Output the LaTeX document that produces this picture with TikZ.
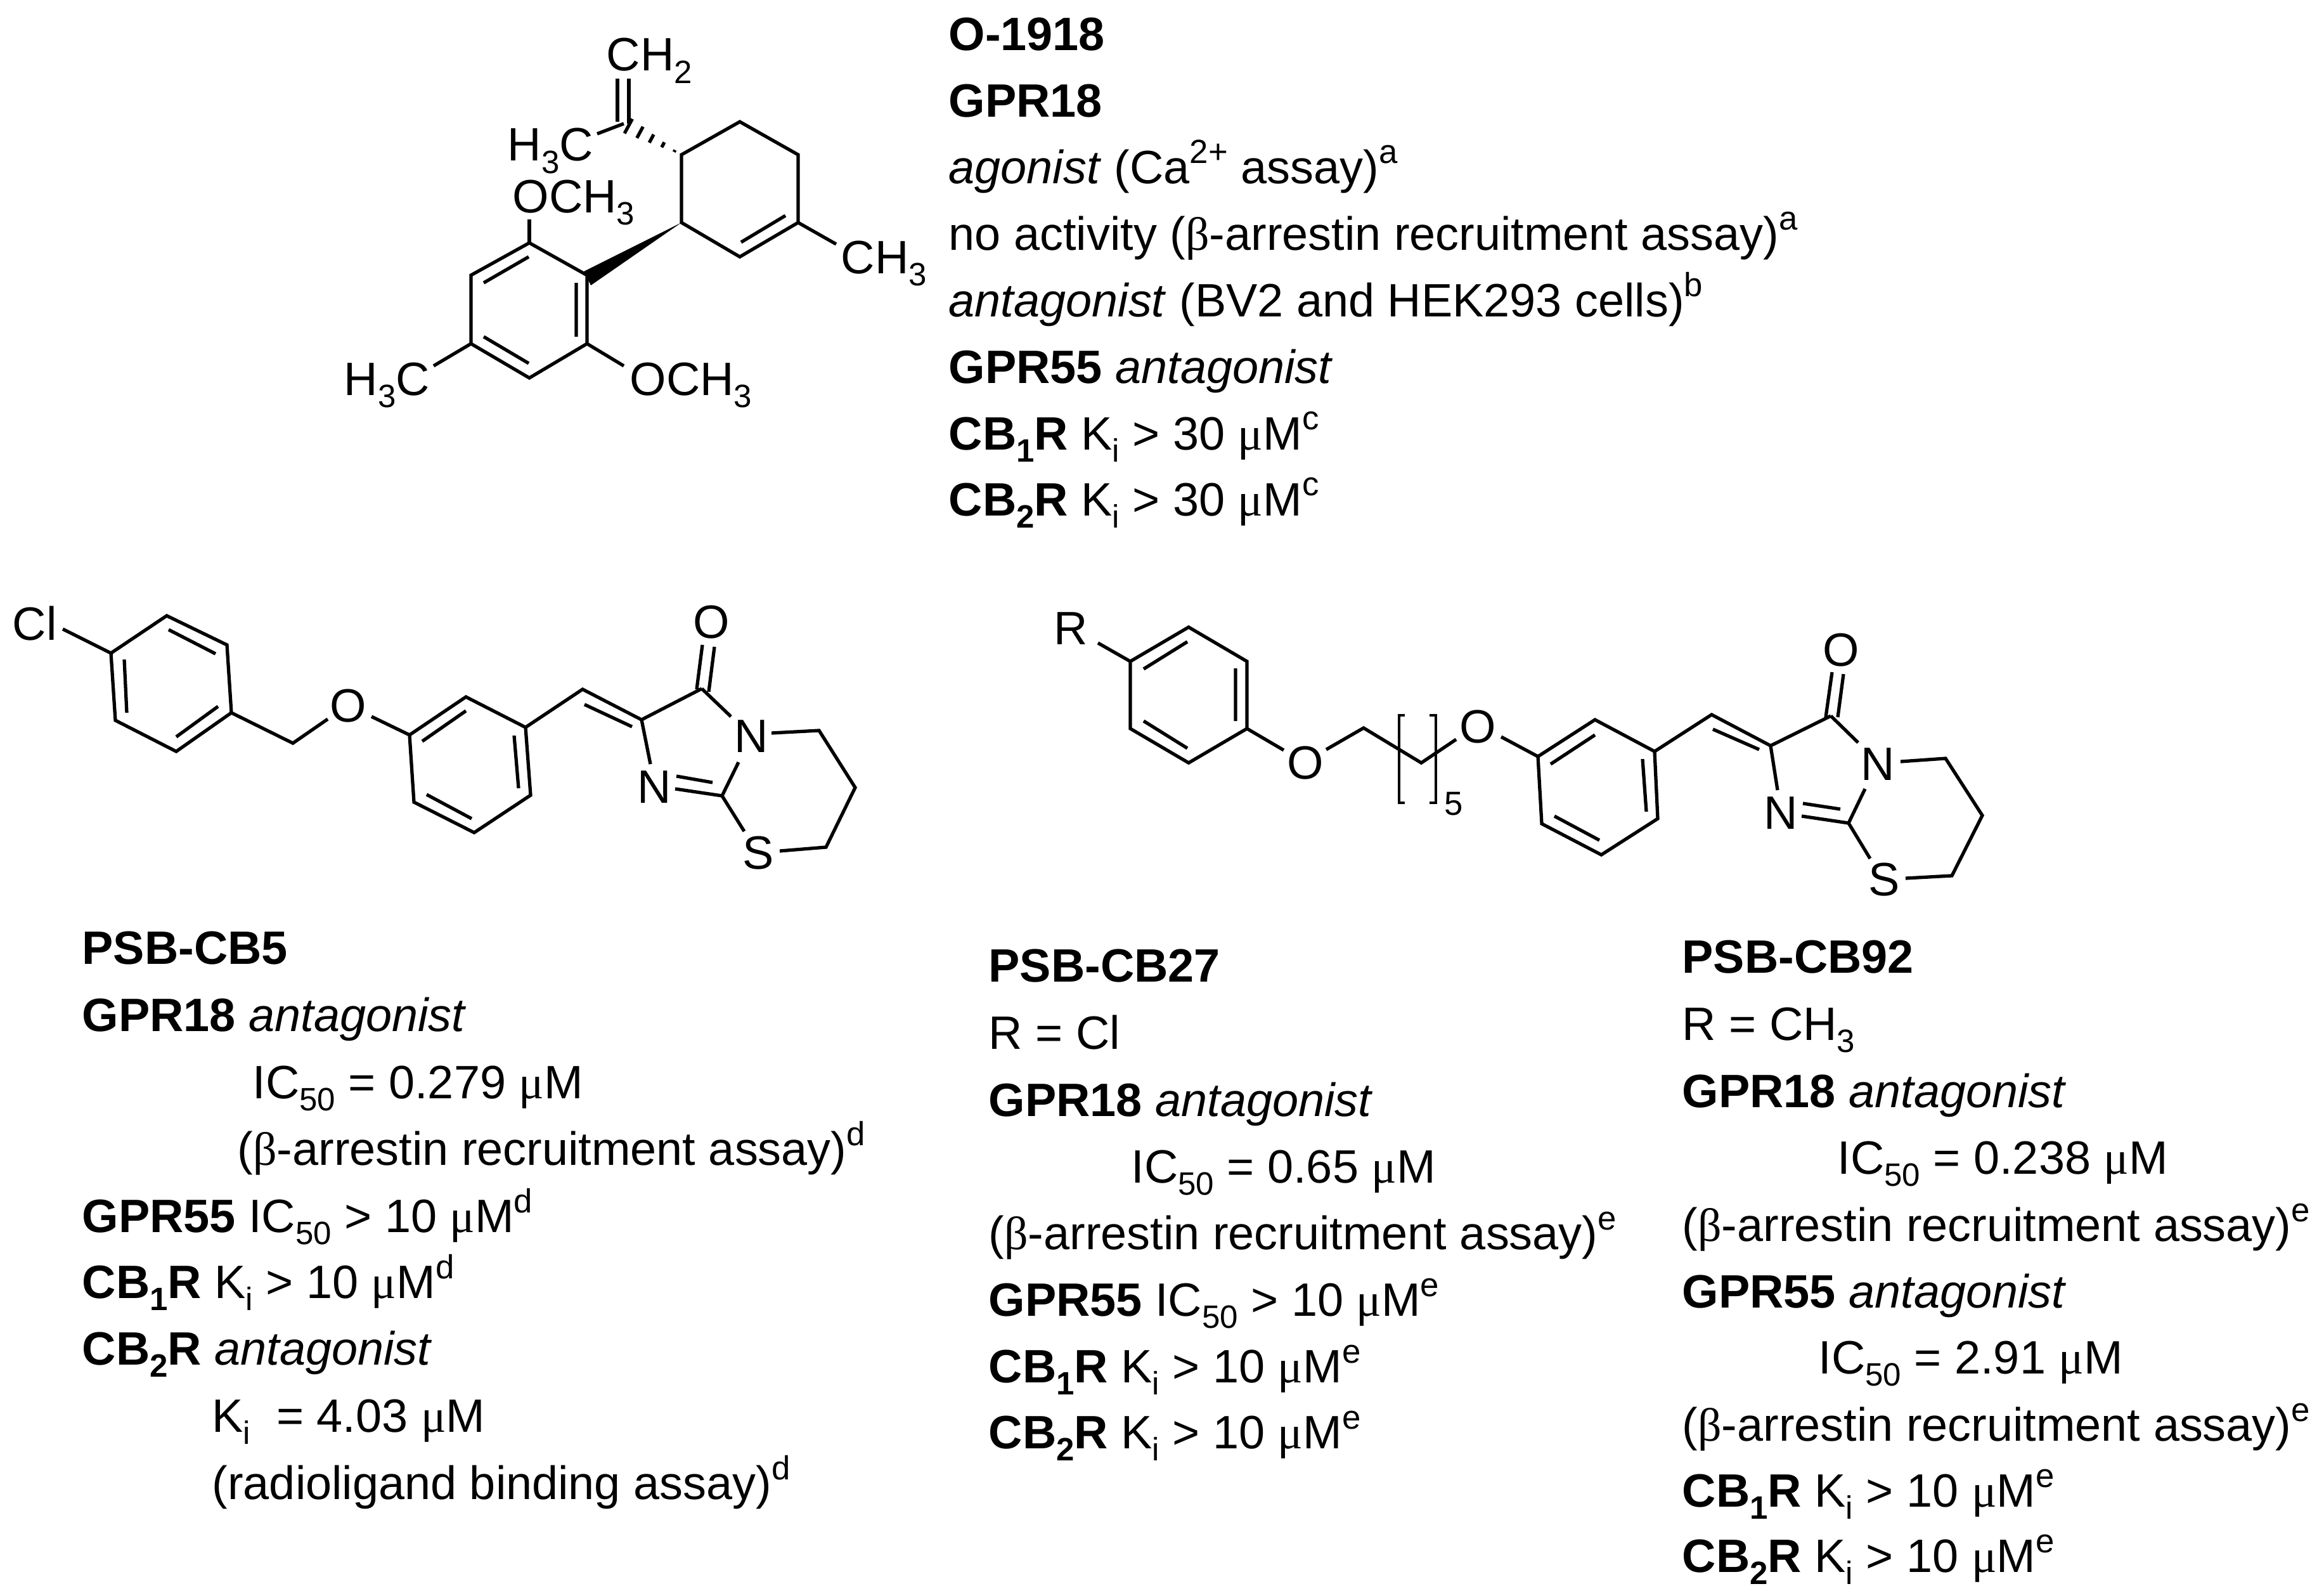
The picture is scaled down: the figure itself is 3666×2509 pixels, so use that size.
\documentclass[tikz,border=0pt]{standalone}
\usepackage{fontspec}
\setmainfont{Liberation Sans}
\newfontfamily\grk{Liberation Serif}
\newcommand\dn[1]{\raisebox{-0.26em}{\fontsize{14.5}{14.5}\selectfont #1}}
\newcommand\up[1]{\raisebox{0.42em}{\fontsize{15}{15}\selectfont #1}}
\newcommand\bt{{\grk β}}
\newcommand\mum{{\grk μ}M}
\newcommand\iu[1]{\textit{#1}}
\tikzset{
  txt/.style={anchor=base west,inner sep=0pt,font=\fontsize{21}{21}\selectfont},
  atomw/.style={anchor=base west,inner sep=0pt,font=\fontsize{21}{21}\selectfont},
  atomc/.style={anchor=center,inner sep=0pt,font=\fontsize{21}{21}\selectfont},
  bond/.style={line width=1.5pt,line join=miter},
}
\begin{document}
\begin{tikzpicture}[x=0.01cm,y=-0.01cm]
\useasboundingbox (0,0) rectangle (3666,2509);
\fill[white] (0,0) rectangle (3666,2509);
% ---------- O-1918 ----------
\draw[bond] (1075,244)--(1167,192)--(1259,244)--(1259,351)--(1167,405)--(1075,351)--cycle;
\draw[bond] (1259,351)--(1319,385);
\draw[bond] (1239,340)--(1169,382);
\draw[bond] (992,195)--(992,124) (974,192)--(974,124);
\draw[bond] (984,195)--(942,211);
\foreach \t in {0.12,0.32,0.52,0.72,0.92}{
  \draw[bond] ({1075-91*\t+6.7*\t},{244-49*\t-12.4*\t})--({1075-91*\t-6.7*\t},{244-49*\t+12.4*\t});}
\fill (1075,351)--(921,428)--(932,450)--cycle;
\draw[bond] (835,383)--(926,434)--(926,542)--(835,596)--(743,542)--(743,434)--cycle;
\draw[bond] (834,405)--(763,446) (909,446)--(909,531) (763,531)--(834,573);
\draw[bond] (835,346)--(835,383);
\draw[bond] (743,542)--(684,577);
\draw[bond] (926,542)--(984,577);
\node[atomw] (ch2) at (956,112) {CH\dn{2}};
\node[atomw] (h3ca) at (800,254) {H\dn{3}C};
\node[atomw] (ome1) at (808,335) {OCH\dn{3}};
\node[atomw] (ch3a) at (1326,431) {CH\dn{3}};
\node[atomw] (h3cb) at (542,623) {H\dn{3}C};
\node[atomw] (ome2) at (993,623) {OCH\dn{3}};
% ---------- PSB-CB5 ----------
\node[atomw] (cl) at (19,1009) {Cl};
\draw[bond] (99,992)--(175,1030);
\draw[bond] (175,1030)--(263,971)--(358,1017)--(365,1124)--(278,1185)--(182,1136)--cycle;
\draw[bond] (266,993)--(340,1031) (196,1040)--(200,1124) (278,1162)--(344,1114);
\draw[bond] (365,1124)--(462,1172)--(517,1134);
\node[atomc] (oa) at (549,1113) {O};
\draw[bond] (586,1130)--(646,1159);
\draw[bond] (646,1159)--(735,1099)--(829,1147)--(837,1254)--(748,1313)--(653,1265)--cycle;
\draw[bond] (666,1169)--(735,1121) (811,1160)--(818,1243) (673,1253)--(744,1291);
\draw[bond] (829,1147)--(919,1087)--(1012,1135)--(1107,1086);
\draw[bond] (922,1111)--(997,1146);
\draw[bond] (1099,1087)--(1108,1017) (1118,1091)--(1127,1020);
\node[atomc] (ob) at (1122,981) {O};
\draw[bond] (1107,1086)--(1153,1130);
\node[atomc] (na) at (1185,1161) {N};
\draw[bond] (1217,1156)--(1292,1152)--(1349,1242)--(1303,1336)--(1230,1342);
\node[atomc] (sa) at (1196,1345) {S};
\draw[bond] (1174,1311)--(1139,1255)--(1165,1202);
\node[atomc] (nb) at (1032,1241) {N};
\draw[bond] (1065,1244)--(1139,1255) (1067,1224)--(1124,1234);
\draw[bond] (1012,1135)--(1026,1205);
% ---------- PSB-CB27/92 ----------
\node[atomc] (r) at (1689,991) {R};
\draw[bond] (1732,1014)--(1783,1043);
\draw[bond] (1783,1043)--(1875,989)--(1967,1043)--(1967,1149)--(1875,1203)--(1783,1149)--cycle;
\draw[bond] (1804,1055)--(1873,1012) (1949,1054)--(1949,1137) (1804,1137)--(1873,1180);
\draw[bond] (1967,1149)--(2025,1183);
\node[atomc] (oc) at (2059,1203) {O};
\draw[bond] (2092,1182)--(2151,1148)--(2242,1203)--(2297,1166);
\node[atomc] (od) at (2331,1146) {O};
\draw[bond] (2368,1162)--(2426,1193);
\draw[line width=1pt] (2216,1128)--(2207,1128)--(2207,1266)--(2216,1266);
\draw[line width=1pt] (2255,1128)--(2265,1128)--(2265,1266)--(2255,1266);
\node[atomc] (five) at (2293,1268) {\fontsize{15}{15}\selectfont 5};
\draw[bond] (2426,1193)--(2516,1135)--(2610,1185)--(2615,1291)--(2526,1348)--(2432,1299)--cycle;
\draw[bond] (2446,1205)--(2516,1159) (2591,1197)--(2597,1280) (2452,1287)--(2523,1325);
\draw[bond] (2610,1185)--(2700,1127)--(2793,1176)--(2888,1129);
\draw[bond] (2702,1150)--(2775,1182);
\draw[bond] (2880,1131)--(2890,1060) (2899,1131)--(2908,1063);
\node[atomc] (oe) at (2904,1025) {O};
\draw[bond] (2888,1129)--(2931,1171);
\node[atomc] (nc) at (2962,1205) {N};
\draw[bond] (2998,1201)--(3069,1196)--(3127,1286)--(3079,1381)--(3006,1385);
\node[atomc] (sb) at (2972,1387) {S};
\draw[bond] (2950,1354)--(2916,1298)--(2942,1244);
\node[atomc] (nd) at (2809,1282) {N};
\draw[bond] (2842,1287)--(2916,1298) (2844,1267)--(2903,1276);
\draw[bond] (2793,1176)--(2804,1246);
% ---------- top text ----------
\node[txt] (a1) at (1496,80) {\textbf{O-1918}};
\node[txt] (a2) at (1496,185) {\textbf{GPR18}};
\node[txt] (a3) at (1496,289) {\iu{agonist} (Ca\up{2+} assay)\up{a}};
\node[txt] (a4) at (1496,394) {no activity (\bt-arrestin recruitment assay)\up{a}};
\node[txt] (a5) at (1496,499) {\iu{antagonist} (BV2 and HEK293 cells)\up{b}};
\node[txt] (a6) at (1496,604) {\textbf{GPR55} \iu{antagonist}};
\node[txt] (a7) at (1496,709) {\textbf{CB\dn{1}R} K\dn{i} > 30 \mum\up{c}};
\node[txt] (a8) at (1496,813) {\textbf{CB\dn{2}R} K\dn{i} > 30 \mum\up{c}};
% ---------- left text ----------
\node[txt] (b1) at (129,1520) {\textbf{PSB-CB5}};
\node[txt] (b2) at (129,1626) {\textbf{GPR18} \iu{antagonist}};
\node[txt] (b3) at (398,1732) {IC\dn{50} = 0.279 \mum};
\node[txt] (b4) at (374,1837) {(\bt-arrestin recruitment assay)\up{d}};
\node[txt] (b5) at (129,1943) {\textbf{GPR55} IC\dn{50} > 10 \mum\up{d}};
\node[txt] (b6) at (129,2047) {\textbf{CB\dn{1}R} K\dn{i} > 10 \mum\up{d}};
\node[txt] (b7) at (129,2152) {\textbf{CB\dn{2}R} \iu{antagonist}};
\node[txt] (b8) at (334,2258) {K\dn{i}\ \ = 4.03 \mum};
\node[txt] (b9) at (334,2364) {(radioligand binding assay)\up{d}};
% ---------- middle text ----------
\node[txt] (c1) at (1559,1548) {\textbf{PSB-CB27}};
\node[txt] (c2) at (1559,1654) {R = Cl};
\node[txt] (c3) at (1559,1760) {\textbf{GPR18} \iu{antagonist}};
\node[txt] (c4) at (1784,1865) {IC\dn{50} = 0.65 \mum};
\node[txt] (c5) at (1559,1970) {(\bt-arrestin recruitment assay)\up{e}};
\node[txt] (c6) at (1559,2075) {\textbf{GPR55} IC\dn{50} > 10 \mum\up{e}};
\node[txt] (c7) at (1559,2180) {\textbf{CB\dn{1}R} K\dn{i} > 10 \mum\up{e}};
\node[txt] (c8) at (1559,2284) {\textbf{CB\dn{2}R} K\dn{i} > 10 \mum\up{e}};
% ---------- right text ----------
\node[txt] (d1) at (2653,1534) {\textbf{PSB-CB92}};
\node[txt] (d2) at (2653,1640) {R = CH\dn{3}};
\node[txt] (d3) at (2653,1746) {\textbf{GPR18} \iu{antagonist}};
\node[txt] (d4) at (2898,1851) {IC\dn{50} = 0.238 \mum};
\node[txt] (d5) at (2653,1957) {(\bt-arrestin recruitment assay)\up{e}};
\node[txt] (d6) at (2653,2062) {\textbf{GPR55} \iu{antagonist}};
\node[txt] (d7) at (2868,2166) {IC\dn{50} = 2.91 \mum};
\node[txt] (d8) at (2653,2272) {(\bt-arrestin recruitment assay)\up{e}};
\node[txt] (d9) at (2653,2376) {\textbf{CB\dn{1}R} K\dn{i} > 10 \mum\up{e}};
\node[txt] (d10) at (2653,2479) {\textbf{CB\dn{2}R} K\dn{i} > 10 \mum\up{e}};
\end{tikzpicture}
\end{document}
